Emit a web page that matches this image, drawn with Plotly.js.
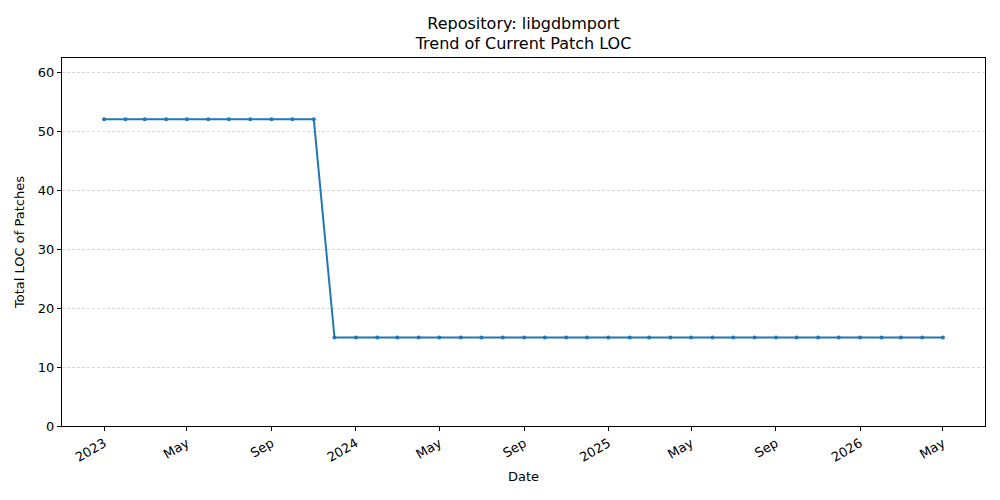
<!DOCTYPE html>
<html>
<head>
<meta charset="utf-8">
<script src="https://cdn.plot.ly/plotly-3.0.1.min.js"></script>
<style>
body{margin:0;padding:0;background:#fff;}
#chart{width:1000px;height:500px;}
</style>
</head>
<body>
<div id="chart"></div>
<script>
// monthly snapshots, Jan 2023 .. May 2026
var dates = ['2023-01-01','2023-02-01','2023-03-01','2023-04-01','2023-05-01','2023-06-01',
	'2023-07-01','2023-08-01','2023-09-01','2023-10-01','2023-11-01','2023-12-01',
	'2024-01-01','2024-02-01','2024-03-01','2024-04-01','2024-05-01','2024-06-01',
	'2024-07-01','2024-08-01','2024-09-01','2024-10-01','2024-11-01','2024-12-01',
	'2025-01-01','2025-02-01','2025-03-01','2025-04-01','2025-05-01','2025-06-01',
	'2025-07-01','2025-08-01','2025-09-01','2025-10-01','2025-11-01','2025-12-01',
	'2026-01-01','2026-02-01','2026-03-01','2026-04-01','2026-05-01'];
var loc = [52,52,52,52,52,52,52,52,52,52,52,15,
	15,15,15,15,15,15,15,15,15,15,15,15,
	15,15,15,15,15,15,15,15,15,15,15,15,
	15,15,15,15,15];
var tickDates = ['2023-01-01','2023-05-01','2023-09-01','2024-01-01','2024-05-01','2024-09-01',
	'2025-01-01','2025-05-01','2025-09-01','2026-01-01','2026-05-01'];
var tickLabels = ['2023','May','Sep','2024','May','Sep','2025','May','Sep','2026','May'];
var yTicks = [0,10,20,30,40,50,60];

var fnt = 'DejaVu Sans, sans-serif';
var trace = {
	x: dates,
	y: loc,
	type: 'scatter',
	mode: 'lines+markers',
	line: {color: '#1f77b4', width: 2},
	marker: {color: '#1f77b4', size: 4},
	hoverinfo: 'x+y'
};

var layout = {
	width: 1000,
	height: 500,
	margin: {l: 62, r: 15, t: 58, b: 74},
	paper_bgcolor: '#fff',
	plot_bgcolor: '#fff',
	showlegend: false,
	font: {family: fnt, size: 13, color: '#000'},
	title: {
		text: 'Repository: libgdbmport<br>Trend of Current Patch LOC',
		font: {family: fnt, size: 16, color: '#000'},
		xref: 'paper', x: 0.5, xanchor: 'center',
		yref: 'container',
		y: 0.943, yanchor: 'top'
	},
	xaxis: {
		type: 'date',
		range: ['2022-11-01', '2026-07-01'],
		tickmode: 'array',
		tickvals: tickDates,
		ticktext: tickLabels,
		tickangle: -30,
		ticks: 'outside',
		ticklen: 4,
		tickcolor: '#000',
		showgrid: false,
		zeroline: false,
		showline: true,
		linecolor: '#000',
		linewidth: 1,
		mirror: true,
		tickfont: {family: fnt, size: 13, color: '#000'},
		title: {text: 'Date', font: {family: fnt, size: 13, color: '#000'}, standoff: 8}
	},
	yaxis: {
		range: [0, 62.4],
		tickmode: 'array',
		tickvals: yTicks,
		ticks: 'outside',
		ticklen: 4,
		tickcolor: '#000',
		showgrid: true,
		gridcolor: '#b0b0b0',
		gridwidth: 0.5,
		griddash: '3px,2px',
		zeroline: false,
		showline: true,
		linecolor: '#000',
		linewidth: 1,
		mirror: true,
		tickfont: {family: fnt, size: 13, color: '#000'},
		title: {text: 'Total LOC of Patches', font: {family: fnt, size: 13, color: '#000'}, standoff: 10}
	}
};

Plotly.newPlot('chart', [trace], layout, {displayModeBar: false, staticPlot: true});
</script>
</body>
</html>
